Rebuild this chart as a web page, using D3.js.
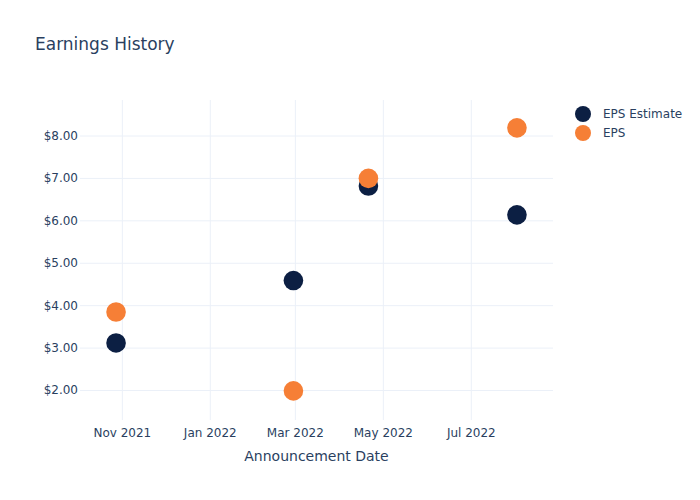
<!DOCTYPE html>
<html><head><meta charset="utf-8">
<script src="https://cdn.jsdelivr.net/npm/d3@7"></script>
<style>body{margin:0;background:#fff}svg text{font-family:"DejaVu Sans",sans-serif}</style>
</head><body><svg id="c" width="700" height="500"></svg>
<script>
const dates = ["2021-10-28","2022-02-28","2022-04-21","2022-08-02"];
const epsEstimate = [3.11, 4.58, 6.81, 6.13];
const eps = [3.84, 1.98, 6.99, 8.18];
const seriesNames = ["EPS Estimate","EPS"];
const seriesColors = ["#0c1f43","#f67f36"];
const yTicks = [2,3,4,5,6,7,8];
const xTicks = ["2021-11-01","2022-01-01","2022-03-01","2022-05-01","2022-07-01"];

const svg = d3.select("#c");
const parse = d3.utcParse("%Y-%m-%d");
const L=80,R=553,T=100,B=420;
const x = d3.scaleUtc().domain([parse("2021-10-03"), parse("2022-08-27")]).range([L,R]);
const y = d3.scaleLinear().domain([1.293, 8.837]).range([B,T]);
const txt="#2a3f5f", grid="#ebf0f8";

const xa = svg.append("g").attr("transform",`translate(0,${B})`)
  .call(d3.axisBottom(x).tickValues(xTicks.map(parse)).tickFormat(d3.utcFormat("%b %Y")).tickSize(-(B-T)).tickPadding(8));
const ya = svg.append("g").attr("transform",`translate(${L},0)`)
  .call(d3.axisLeft(y).tickValues(yTicks).tickFormat(d=>"$"+d.toFixed(2)).tickSize(-(R-L)).tickPadding(2));
[xa,ya].forEach(a=>{a.select(".domain").remove();
  a.attr("font-family",null);
  a.selectAll("line").attr("stroke",grid).attr("stroke-width",1);
  a.selectAll("text").attr("fill",txt).style("font-size","12px");});

const series=[epsEstimate, eps];
series.forEach((vals,i)=>{
  svg.append("g").selectAll("circle").data(vals).join("circle")
    .attr("cx",(d,j)=>x(parse(dates[j]))).attr("cy",d=>y(d)).attr("r",9.8)
    .attr("fill",seriesColors[i]);
});

svg.append("text").attr("x",35).attr("y",50).attr("fill",txt).style("font-size","17px").text("Earnings History");
svg.append("text").attr("x",(L+R)/2).attr("y",461).attr("text-anchor","middle").attr("fill",txt).style("font-size","14px").text("Announcement Date");

const lg=svg.append("g");
seriesNames.forEach((n,i)=>{
  lg.append("circle").attr("cx",583).attr("cy",114+i*19).attr("r",8).attr("fill",seriesColors[i]);
  lg.append("text").attr("x",603).attr("y",118+i*19).attr("fill",txt).style("font-size","12px").text(n);
});
</script></body></html>
